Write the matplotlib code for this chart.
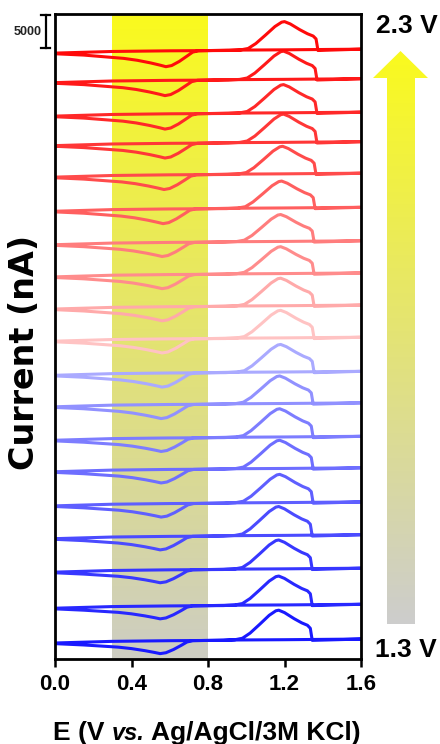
import numpy as np
import matplotlib
matplotlib.use("Agg")
import matplotlib.pyplot as plt
from matplotlib.path import Path
from matplotlib.patches import PathPatch

plt.rcParams['font.family'] = ['Liberation Sans', 'DejaVu Sans']
plt.rcParams['font.weight'] = 'bold'

# vertical offset of each CV (nA), from bottom (1.3 V) to top (2.3 V)
offsets = [0, 5300, 10800, 15900, 20900, 26100, 30900, 36000, 40800, 46000,
           50900, 55800, 60700, 65800, 71000, 75800, 80300, 85400, 89900]
# small shift of the peaks along E (V)
shifts = [0, 0, 0, 0, 0.005, 0.005, 0.005, 0.005, 0.01, 0.01,
          0.01, 0.01, 0.01, 0.015, 0.02, 0.025, 0.025, 0.025, 0.03]
# oxidation peak height above baseline (nA)
peak_heights = [4600, 4500, 4500, 4500, 4400, 4400, 4400, 4300, 4300, 4300,
                4300, 4200, 4200, 4200, 4300, 4400, 4400, 4400, 4400]
# scale of the reduction dip
dip_scale = [0.9, 0.9, 0.9, 0.95, 0.95, 0.95, 0.95, 1.0, 1.0, 1.0,
             1.0, 1.0, 1.0, 1.05, 1.05, 1.05, 1.1, 1.1, 1.15]
colors = ['#1919ff', '#2828ff', '#3737ff', '#4b4bff', '#5f5fff', '#6e6eff',
          '#7d7dff', '#9191ff', '#aaaaff', '#ffc3c3', '#ffaaaa', '#ff8c8c',
          '#ff7d7d', '#ff5f5f', '#ff4b4b', '#ff3737', '#ff2828', '#ff1919',
          '#ff0a0a']

# forward scan template
fwd_left_E = [0.0, 0.3, 0.6]
fwd_left_I = [0, 250, 350]
peak_E = np.array([0.88, 0.94, 0.98, 1.02, 1.07, 1.12, 1.155, 1.17, 1.20,
                   1.25, 1.29, 1.32, 1.335, 1.345])
peak_frac = np.array([0, 0.02, 0.07, 0.24, 0.53, 0.83, 0.98, 1.0, 0.92,
                      0.72, 0.58, 0.50, 0.40, 0])
fwd_right_E = [1.6]
fwd_right_I = [600]

# reverse scan template
rev_right_E = [1.6, 1.2, 0.9]
rev_right_I = [600, 500, 450]
dip_E = np.array([0.72, 0.69, 0.66, 0.62, 0.58, 0.55, 0.52, 0.47, 0.40, 0.33])
dip_I = np.array([350, 150, -400, -1100, -1650, -1800, -1600, -1300, -950, -700])
rev_left_E = [0.15, 0.0]
rev_left_I = [-300, -100]

fig = plt.figure(figsize=(4.4, 7.44), dpi=100)
ax = fig.add_axes([55 / 440, 85 / 744, 306 / 440, 645 / 744])
ylo, yhi = -2440, 95860

# shaded band with vertical gradient
g = np.linspace(0, 1, 256)[:, None, None]
c_top = np.array([250, 250, 30]) / 255
c_bot = np.array([205, 205, 195]) / 255
ax.imshow(c_top + (c_bot - c_top) * g, extent=[0.3, 0.8, ylo, yhi],
          aspect='auto', zorder=0)

for i in range(len(offsets)):
    s = shifts[i]
    fE = np.concatenate([fwd_left_E, peak_E + s, fwd_right_E])
    fI = np.concatenate([fwd_left_I, 400 + peak_frac * peak_heights[i], fwd_right_I])
    dI = np.where(dip_I < 0, dip_I * dip_scale[i], dip_I)
    rE = np.concatenate([rev_right_E, dip_E + s, rev_left_E])
    rI = np.concatenate([rev_right_I, dI, rev_left_I])
    E = np.concatenate([fE, rE])
    I = np.concatenate([fI, rI]) + offsets[i]
    ax.plot(E, I, color=colors[i], lw=2.2, solid_joinstyle='round', zorder=2)

ax.set_xlim(0, 1.6)
ax.set_ylim(ylo, yhi)
ax.set_xticks([0.0, 0.4, 0.8, 1.2, 1.6])
ax.set_xticklabels(['0.0', '0.4', '0.8', '1.2', '1.6'])
ax.set_yticks([])
ax.tick_params(axis='x', length=6, width=1.8, pad=5, labelsize=16)
for sp in ax.spines.values():
    sp.set_linewidth(2)

# scale bar
ax.plot([-0.049, -0.049], [90680, 95680], color='black', lw=1.6, clip_on=False)
ax.plot([-0.073, -0.025], [90680, 90680], color='black', lw=1.6, clip_on=False)
ax.plot([-0.073, -0.025], [95680, 95680], color='black', lw=1.6, clip_on=False)
ax.text(-0.068, 93180, '5000', ha='right', va='center', fontsize=9,
        color='#222222')

# overlay in pixel coordinates
ov = fig.add_axes([0, 0, 1, 1])
ov.patch.set_alpha(0)
ca = np.array([250, 250, 30]) / 255
cb = np.array([205, 205, 205]) / 255
im = ov.imshow(ca + (cb - ca) * g, extent=[373, 428, 624, 51], aspect='auto',
               zorder=1)
verts = [(387, 624), (415, 624), (415, 78), (428, 78), (400.5, 51), (373, 78),
         (387, 78), (387, 624)]
clip = PathPatch(Path(verts, closed=True), transform=ov.transData,
                 facecolor='none', edgecolor='none')
ov.add_patch(clip)
im.set_clip_path(clip)
ov.set_xlim(0, 440)
ov.set_ylim(744, 0)
ov.axis('off')

ov.text(407, 26, '2.3 V', ha='center', va='center', fontsize=19)
ov.text(406, 650, '1.3 V', ha='center', va='center', fontsize=19)
ov.text(25, 352, 'Current (nA)', rotation=90, ha='center', va='center',
        fontsize=24, family='DejaVu Sans')

# x label with italic "vs."
r = fig.canvas.get_renderer()
parts = [('E (V', 'normal', 19), ('vs.', 'italic', 17), ('Ag/AgCl/3M KCl)', 'normal', 19)]
gap = 7
texts = []
for txt, st, fs in parts:
    t = ov.text(0, 740, txt, ha='left', va='baseline', fontsize=fs, style=st)
    texts.append(t)
widths = [t.get_window_extent(r).width for t in texts]
total = sum(widths) + gap * (len(widths) - 1)
x = 207 - total / 2
for t, w in zip(texts, widths):
    t.set_x(x)
    x += w + gap

fig.savefig('out.png', dpi=100)
